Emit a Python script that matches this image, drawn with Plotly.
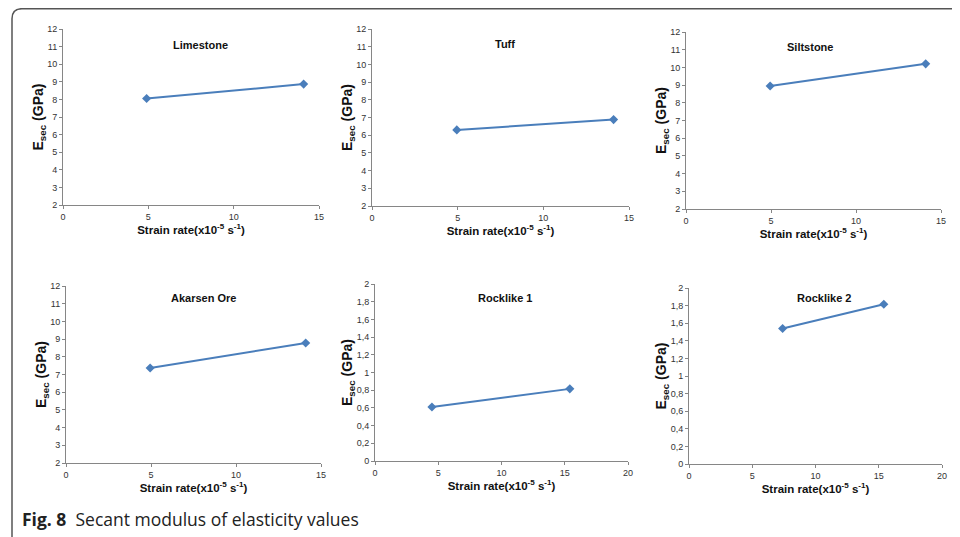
import plotly.graph_objects as go

# page is drawn with an 8px body offset, so the figure is sized to fill the rest
OFF = 8
W, H = 960 - OFF, 537 - OFF

names = ["Limestone", "Tuff", "Siltstone", "Akarsen Ore", "Rocklike 1", "Rocklike 2"]
strain = [[4.9, 14.1], [4.95, 14.1], [4.95, 14.1], [4.95, 14.1], [4.5, 15.4], [7.4, 15.4]]
esec = [[8.05, 8.87], [6.3, 6.88], [8.95, 10.2], [7.37, 8.78], [0.61, 0.815], [1.54, 1.815]]

x_ticks_a = [0, 5, 10, 15]
x_ticks_b = [0, 5, 10, 15, 20]
y_ticks_a = list(range(2, 13))
y_ticks_b = [0, 0.2, 0.4, 0.6, 0.8, 1, 1.2, 1.4, 1.6, 1.8, 2]
y_text_b = ["0", "0,2", "0,4", "0,6", "0,8", "1", "1,2", "1,4", "1,6", "1,8", "2"]

# panel boxes in screen pixels: left, right, top, bottom
boxes = [(63, 319, 29, 205), (372, 629, 29, 206), (686, 941, 32, 209),
         (66, 321, 286, 463), (375, 628, 284, 461), (689, 942, 288, 464)]
title_pos = [(200, 45), (505, 44), (810, 47), (203, 298), (505, 298), (824, 298)]


def px(x):
    return (x - OFF) / W


def py(y):
    return 1 - (y - OFF) / H


BLUE = "#4A7EBB"
AXC = "#868686"
FONT = "Liberation Sans, Arial, sans-serif"

fig = go.Figure()
layout = dict(width=W, height=H, margin=dict(l=0, r=0, t=0, b=0),
              paper_bgcolor="white", plot_bgcolor="white", showlegend=False,
              annotations=[], shapes=[])

for i in range(6):
    n = i + 1
    xa = "x" if n == 1 else f"x{n}"
    ya = "y" if n == 1 else f"y{n}"
    fig.add_trace(go.Scatter(x=strain[i], y=esec[i], mode="lines+markers",
                             xaxis=xa, yaxis=ya,
                             line=dict(color=BLUE, width=2),
                             marker=dict(symbol="diamond", size=7, color=BLUE)))
    l, r, t, b = boxes[i]
    big = i < 4
    xt = x_ticks_a if big else x_ticks_b
    yt = y_ticks_a if big else y_ticks_b
    ytxt = [str(v) for v in y_ticks_a] if big else y_text_b
    xkey = "xaxis" if n == 1 else f"xaxis{n}"
    ykey = "yaxis" if n == 1 else f"yaxis{n}"
    layout[xkey] = dict(domain=[px(l), px(r)], anchor=ya, range=[0, xt[-1]],
                        tickvals=xt, ticktext=[str(v) for v in xt],
                        showgrid=False, zeroline=False, showline=True,
                        linecolor=AXC, linewidth=1, ticks="outside", ticklen=3,
                        tickcolor=AXC, tickfont=dict(family=FONT, size=9, color="#333"),
                        automargin=False, fixedrange=True,
                        title=dict(text="<b>Strain rate(x10<sup>-5</sup> s<sup>-1</sup>)</b>",
                                   font=dict(family=FONT, size=11.5, color="#111"), standoff=4))
    layout[ykey] = dict(domain=[py(b), py(t)], anchor=xa, range=[yt[0], yt[-1]],
                        tickvals=yt, ticktext=ytxt,
                        showgrid=False, zeroline=False, showline=True,
                        linecolor=AXC, linewidth=1, ticks="outside", ticklen=3,
                        tickcolor=AXC, tickfont=dict(family=FONT, size=9, color="#333"),
                        automargin=False, fixedrange=True,
                        title=dict(text="<b>E<sub>sec</sub> (GPa)</b>",
                                   font=dict(family=FONT, size=14, color="#111"), standoff=0))
    tx, ty = title_pos[i]
    layout["annotations"].append(dict(x=px(tx), y=py(ty), xref="paper", yref="paper",
                                      text=f"<b>{names[i]}</b>", showarrow=False,
                                      font=dict(family=FONT, size=11, color="#111"),
                                      xanchor="center", yanchor="middle"))

layout["annotations"].append(dict(x=px(20), y=py(519), xref="paper", yref="paper",
                                  text="<b>Fig. 8</b>  Secant modulus of elasticity values",
                                  showarrow=False, xanchor="left", yanchor="middle",
                                  font=dict(family="Open Sans, Noto Sans, sans-serif", size=17.5, color="#222")))

# rounded frame (top-left corner visible)
x0, y0 = px(12), py(8.7)
rx, ry = 10 / W, 10 / H
path = (f"M {x0},0 L {x0},{y0 - ry} Q {x0},{y0} {x0 + rx},{y0} L 1.01,{y0}")
layout["shapes"].append(dict(type="path", path=path, xref="paper", yref="paper",
                             line=dict(color="#555", width=1.5)))

fig.update_layout(**layout)
fig.write_html("out.html")
